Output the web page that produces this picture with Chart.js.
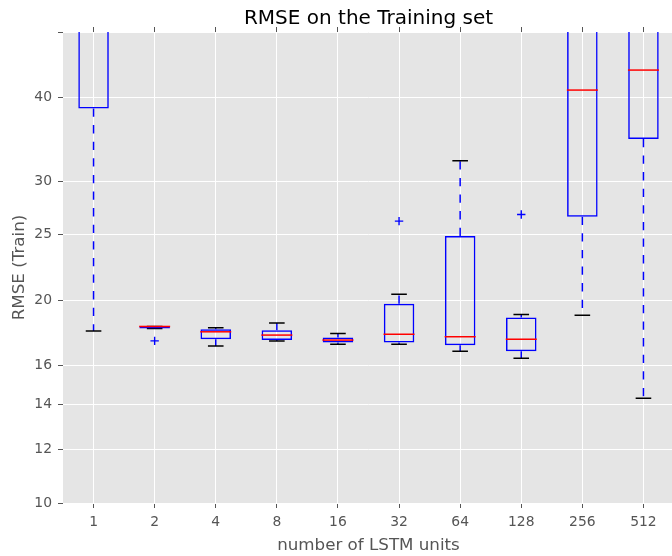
<!DOCTYPE html>
<html>
<head>
<meta charset="utf-8">
<script src="https://cdn.jsdelivr.net/npm/chart.js@4.4.0/dist/chart.umd.min.js"></script>
<style>
  body { margin: 0; overflow: hidden; background: #fff; }
  #wrap { width: 676px; height: 556px; }
</style>
</head>
<body>
<div id="wrap"><canvas id="chart" width="676" height="556"></canvas></div>
<script>
// box plot values (RMSE, log axis)
const units = ["1", "2", "4", "8", "16", "32", "64", "128", "256", "512"];
const q1 = [38.5, 18.15, 17.5, 17.45, 17.3, 17.3, 17.15, 16.8, 26.6, 34.7];
const q3 = [70, 18.28, 18.1, 18.05, 17.6, 19.75, 24.9, 18.85, 60, 55];
const medians = [58, 18.28, 17.95, 17.75, 17.45, 17.8, 17.65, 17.5, 41.0, 43.9];
const whiskerLow = [18.0, 18.15, 17.1, 17.4, 17.2, 17.2, 16.8, 16.4, 19.0, 14.3];
const whiskerHigh = [90, 18.28, 18.2, 18.5, 17.85, 20.4, 32.2, 19.05, 80, 70];
const outliers = [[], [17.4], [], [], [], [26.2], [], [26.8], [], []];
const yTicks = [10, 12, 14, 16, 20, 25, 30, 40, 50];

const boxes = units.map(function (u, i) { return [q1[i], q3[i]]; });
const medianPts = units.map(function (u, i) { return { x: u, y: medians[i] }; });

var whiskerPts = [];
var capPts = [];
var flierPts = [];
units.forEach(function (u, i) {
  whiskerPts.push({ x: u, y: q1[i] }, { x: u, y: whiskerLow[i] }, { x: u, y: null });
  whiskerPts.push({ x: u, y: q3[i] }, { x: u, y: whiskerHigh[i] }, { x: u, y: null });
  capPts.push({ x: u, y: whiskerLow[i] }, { x: u, y: whiskerHigh[i] });
  outliers[i].forEach(function (v) { flierPts.push({ x: u, y: v }); });
});

const plotBg = {
  id: "plotBg",
  beforeDraw(chart) {
    const ctx = chart.ctx, a = chart.chartArea;
    ctx.save();
    ctx.fillStyle = "#e5e5e5";
    ctx.fillRect(a.left, a.top, a.right - a.left, a.bottom - a.top);
    ctx.restore();
  }
};

// title centred over the plot area, like matplotlib
const plotTitle = {
  id: "plotTitle",
  afterDraw(chart) {
    const ctx = chart.ctx, a = chart.chartArea;
    ctx.save();
    ctx.fillStyle = "#000";
    ctx.font = "20px 'DejaVu Sans'";
    ctx.textAlign = "center";
    ctx.textBaseline = "alphabetic";
    ctx.fillText("RMSE on the Training set", (a.left + a.right) / 2, 24);
    ctx.restore();
  }
};

const tickFont = { family: "'DejaVu Sans'", size: 13.9 };
const labelFont = { family: "'DejaVu Sans'", size: 16.7 };

// the plot runs off the right edge, so drop the label overhang padding
function noSidePadding(scale) {
  scale.paddingLeft = 0;
  scale.paddingRight = 0;
}

new Chart(document.getElementById("chart").getContext("2d"), {
  type: "bar",
  data: {
    labels: units,
    datasets: [
      {
        type: "line", data: medianPts, showLine: false, order: 1,
        pointStyle: "line", pointRadius: 15.5, pointBorderColor: "#ff0000",
        pointBorderWidth: 1.5, pointHoverRadius: 15.5
      },
      {
        type: "line", data: capPts, showLine: false, order: 3,
        pointStyle: "line", pointRadius: 7.8, pointBorderColor: "#000000",
        pointBorderWidth: 1.5, pointHoverRadius: 7.8
      },
      {
        type: "line", data: flierPts, showLine: false, order: 2,
        pointStyle: "cross", pointRadius: 4.2, pointBorderColor: "#0000ff",
        pointBorderWidth: 1.4, pointHoverRadius: 4.2
      },
      {
        data: boxes, order: 2,
        backgroundColor: "rgba(0,0,0,0)", borderColor: "#0000ff",
        borderWidth: 1.5, borderSkipped: false,
        barPercentage: 0.5, categoryPercentage: 1
      },
      {
        type: "line", data: whiskerPts, order: 4, spanGaps: false,
        borderColor: "#0000ff", borderWidth: 1.5, borderDash: [8.3, 8.3],
        pointRadius: 0, pointHoverRadius: 0
      }
    ]
  },
  options: {
    responsive: false,
    animation: false,
    events: [],
    layout: { autoPadding: false, padding: { top: 27, right: 2, left: 0, bottom: 0 } },
    plugins: { legend: { display: false }, tooltip: { enabled: false } },
    scales: {
      x: {
        type: "category",
        offset: true,
        grid: { color: "#ffffff", lineWidth: 1, offset: false, tickLength: 5, tickColor: "#555555" },
        border: { display: false },
        ticks: { color: "#555555", font: tickFont, padding: 6 },
        title: { display: true, text: "number of LSTM units", color: "#555555", font: labelFont, padding: { top: 2, bottom: 0 } },
        afterFit: function (scale) { scale.height = 53; noSidePadding(scale); }
      },
      xTop: {
        type: "category",
        position: "top",
        offset: true,
        grid: { drawOnChartArea: false, offset: false, tickLength: 5, tickColor: "#555555" },
        border: { display: false },
        ticks: { display: false },
        afterFit: function (scale) { scale.height = 5; noSidePadding(scale); }
      },
      y: {
        type: "logarithmic",
        min: 10,
        max: 50,
        grid: { color: "#ffffff", lineWidth: 1, tickLength: 5, tickColor: "#555555" },
        border: { display: false },
        ticks: {
          color: "#555555", font: tickFont, padding: 6, autoSkip: false,
          callback: function (v) { return v === 50 ? "" : String(v); }
        },
        afterBuildTicks: function (scale) {
          scale.ticks = yTicks.map(function (v) { return { value: v }; });
        },
        title: { display: true, text: "RMSE (Train)", color: "#555555", font: labelFont, padding: { top: 10, bottom: 0 } },
        afterFit: function (scale) { scale.width = 63; }
      }
    }
  },
  plugins: [plotBg, plotTitle]
});
</script>
</body>
</html>
